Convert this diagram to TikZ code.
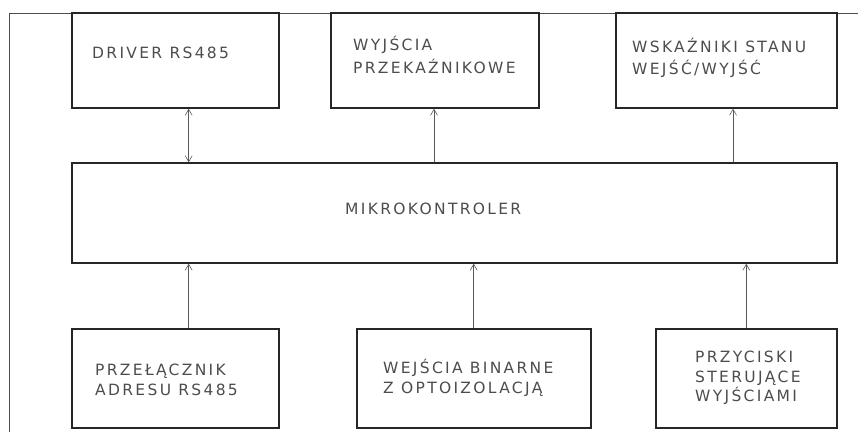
\documentclass[tikz,border=0pt]{standalone}
\usepackage{fontspec}
\setmainfont{DejaVu Sans}[LetterSpace=15]
\usetikzlibrary{arrows.meta}
\begin{document}
\begin{tikzpicture}[x=1pt,y=-1pt,
  box/.style={draw=black!85,line width=1.4pt,inner sep=0pt},
  lbl/.style={anchor=west,align=left,inner sep=0pt,text=black!70,font=\fontsize{15.5}{#1}\selectfont},
  lbl/.default=20,
  sig/.style={draw=black!65,line width=0.6pt,-{Straight Barb[length=6pt,width=7pt]}},
  sig2/.style={draw=black!65,line width=0.6pt,{Straight Barb[length=6pt,width=7pt]}-{Straight Barb[length=6pt,width=7pt]}},
  frame/.style={draw=black!70,line width=0.9pt}]
\useasboundingbox (0,0) rectangle (858,432);
% outer frame
\coordinate (ftl) at (9,13);
\coordinate (ftr) at (858,13);
\coordinate (fbl) at (9,432);
\draw[frame] (ftr) -- (ftl) -- (fbl);
% boxes
\node[box,minimum width=207pt,minimum height=95pt] (drv) at (175.5,60.5) {};
\node[box,minimum width=208pt,minimum height=95pt] (wyj) at (435,60.5) {};
\node[box,minimum width=221pt,minimum height=95pt] (wsk) at (726.5,60.5) {};
\node[box,minimum width=765pt,minimum height=100pt] (mcu) at (454.5,213) {};
\node[box,minimum width=207pt,minimum height=99pt] (prz) at (175.5,378.5) {};
\node[box,minimum width=234pt,minimum height=99pt] (wej) at (474,378.5) {};
\node[box,minimum width=181pt,minimum height=99pt] (btn) at (746.5,378.5) {};
% labels
\node[lbl] (tdrv) at (92,52.5) {DRIVER RS485};
\node[lbl=23] (twyj) at (353,55) {WYJŚCIA\\PRZEKAŹNIKOWE};
\node[lbl=21.5] (twsk) at (632,58) {WSKAŹNIKI STANU\\WEJŚĆ/WYJŚĆ};
\node[lbl] (tmcu) at (345,209) {MIKROKONTROLER};
\node[lbl=19.5] (tprz) at (95,380) {PRZEŁĄCZNIK\\ADRESU RS485};
\node[lbl=19.5] (twej) at (383,378) {WEJŚCIA BINARNE\\Z OPTOIZOLACJĄ};
\node[lbl=19.5] (tbtn) at (695,378) {PRZYCISKI\\STERUJĄCE\\WYJŚCIAMI};
% connector x positions
\coordinate (c1) at (188.7,0);
\coordinate (c2) at (434,0);
\coordinate (c3) at (733,0);
\coordinate (c4) at (473.7,0);
\coordinate (c5) at (746.3,0);
% connectors
\draw[sig2] (drv.south -| c1) -- (mcu.north -| c1);
\draw[sig] (mcu.north -| c2) -- (wyj.south -| c2);
\draw[sig] (mcu.north -| c3) -- (wsk.south -| c3);
\draw[sig] (prz.north -| c1) -- (mcu.south -| c1);
\draw[sig] (wej.north -| c4) -- (mcu.south -| c4);
\draw[sig] (btn.north -| c5) -- (mcu.south -| c5);
\end{tikzpicture}
\end{document}
